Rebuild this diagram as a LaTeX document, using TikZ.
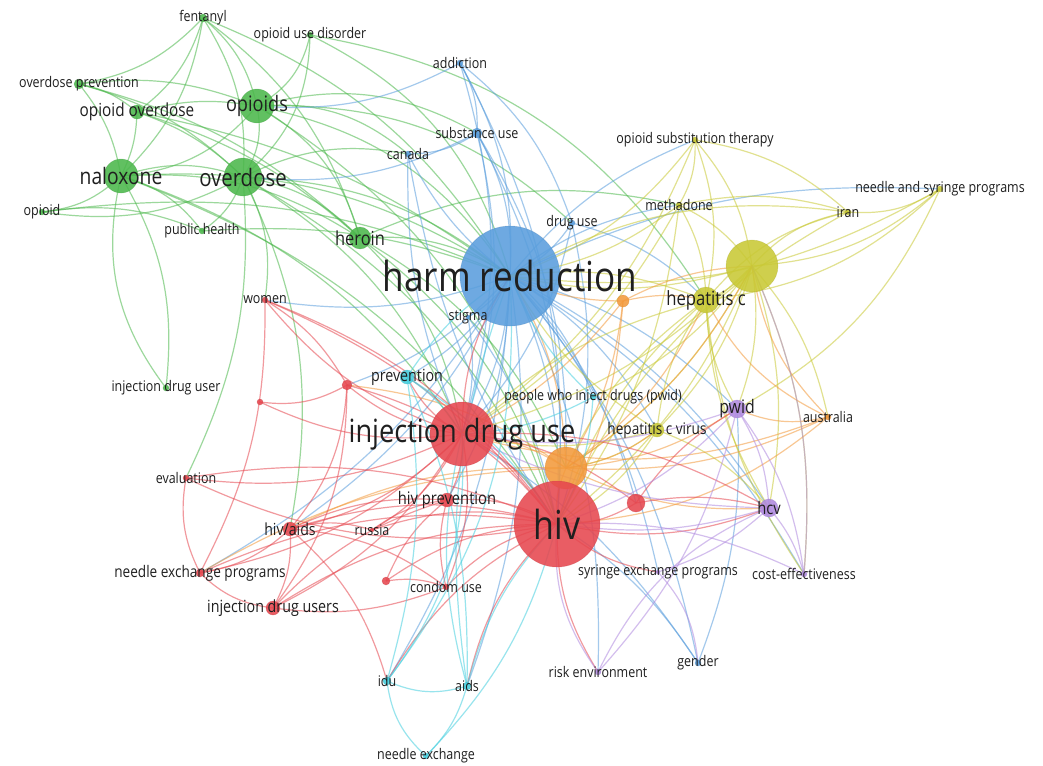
\documentclass[tikz,border=0pt]{standalone}
\usepackage{fontspec}
\setmainfont{Open Sans}
\usetikzlibrary{backgrounds}

\definecolor{vgreen}{HTML}{4CB84C}
\definecolor{vblue}{HTML}{5A9EDD}
\definecolor{vyellow}{HTML}{C9C935}
\definecolor{vorange}{HTML}{F39A3C}
\definecolor{vred}{HTML}{E6474F}
\definecolor{vpurple}{HTML}{B08AE0}
\definecolor{vcyan}{HTML}{45CFDF}

\begin{document}
\begin{tikzpicture}[x=0.75pt, y=-0.75pt,
    bub/.style 2 args={circle, inner sep=0, minimum size=#2*1.5pt, fill=#1,
      fill opacity=0.88, draw=#1!80!black, draw opacity=0.3, line width=0.4pt},
    kw/.style={font=\fontsize{#1}{#1}\selectfont, text=black!88, inner sep=0,
      xscale=0.85, transform shape},
    edg/.style={line width=0.9pt, draw=#1, draw opacity=0.55}]
  \useasboundingbox (0,0) rectangle (1043,765);

  % green cluster
  \node[bub={vgreen}{4}] (fent) at (203,18) {};
  \node[bub={vgreen}{3}] (oud) at (310,35) {};
  \node[bub={vgreen}{5}] (odprev) at (79,84) {};
  \node[bub={vgreen}{7}] (opod) at (137,112) {};
  \node[bub={vgreen}{17}] (opioids) at (257,106) {};
  \node[bub={vgreen}{17}] (nalox) at (121,176) {};
  \node[bub={vgreen}{19}] (overdose) at (243,177) {};
  \node[bub={vgreen}{3}] (opioid) at (42,212) {};
  \node[bub={vgreen}{3}] (pubh) at (202,231) {};
  \node[bub={vgreen}{11}] (heroin) at (360,238) {};
  \node[bub={vgreen}{3}] (idus) at (166,388) {};

  % blue cluster
  \node[bub={vblue}{3}] (addic) at (460,63) {};
  \node[bub={vblue}{5}] (subst) at (477,133) {};
  \node[bub={vblue}{3}] (canada) at (408,154) {};
  \node[bub={vblue}{3}] (druguse) at (572,223) {};
  \node[bub={vblue}{50}] (harm) at (510,276) {};
  \node[bub={vblue}{2}] (stigma) at (468,317) {};
  \node[bub={vblue}{3}] (gender) at (698,663) {};

  % yellow cluster
  \node[bub={vyellow}{3}] (ost) at (695,140) {};
  \node[bub={vyellow}{3}] (metha) at (679,205) {};
  \node[bub={vyellow}{3}] (nsp) at (940,189) {};
  \node[bub={vyellow}{3}] (iran) at (848,212) {};
  \node[bub={vyellow}{26}] (ybig) at (752,266) {};
  \node[bub={vyellow}{13}] (hepc) at (706,300) {};
  \node[bub={vyellow}{7}] (hcvvirus) at (657,430) {};

  % orange cluster
  \node[bub={vorange}{6}] (osmall) at (623,301) {};
  \node[bub={vorange}{21}] (obig) at (566,468) {};
  \node[bub={vorange}{3}] (austr) at (828,417) {};

  % red cluster
  \node[bub={vred}{32}] (idrug) at (462,434) {};
  \node[bub={vred}{43}] (hiv) at (557,524) {};
  \node[bub={vred}{5}] (rdot1) at (347,385) {};
  \node[bub={vred}{3}] (rdot2) at (260,402) {};
  \node[bub={vred}{3}] (women) at (265,300) {};
  \node[bub={vred}{3}] (evalu) at (186,478) {};
  \node[bub={vred}{7}] (hivprev) at (447,500) {};
  \node[bub={vred}{7}] (hivaids) at (290,529) {};
  \node[bub={vred}{2}] (russia) at (372,530) {};
  \node[bub={vred}{4}] (nep) at (200,573) {};
  \node[bub={vred}{4}] (rdot3) at (386,581) {};
  \node[bub={vred}{3}] (condom) at (446,587) {};
  \node[bub={vred}{7}] (idusers) at (273,608) {};
  \node[bub={vred}{9}] (rdot4) at (636,503) {};

  % purple cluster
  \node[bub={vpurple}{9}] (pwid) at (737,409) {};
  \node[bub={vpurple}{9}] (hcv) at (769,508) {};
  \node[bub={vpurple}{3}] (riskenv) at (598,672) {};
  \node[bub={vpurple}{3}] (costeff) at (804,574) {};
  \node[bub={vpurple}{2}] (sep) at (658,572) {};

  % cyan cluster
  \node[bub={vcyan}{7}] (prevent) at (407,377) {};
  \node[bub={vcyan}{3}] (pwidl) at (593,397) {};
  \node[bub={vcyan}{4}] (idu) at (387,681) {};
  \node[bub={vcyan}{4}] (aids) at (467,686) {};
  \node[bub={vcyan}{3}] (needlex) at (426,756) {};

  % labels
  \node[kw=11] (fent-t) at (fent) {fentanyl};
  \node[kw=11] (oud-t) at (oud) {opioid use disorder};
  \node[kw=11] (odprev-t) at (odprev) {overdose prevention};
  \node[kw=13.5] (opod-t) at (opod) {opioid overdose};
  \node[kw=16] (opioids-t) at (opioids) {opioids};
  \node[kw=17] (nalox-t) at (nalox) {naloxone};
  \node[kw=18] (overdose-t) at (overdose) {overdose};
  \node[kw=11] (opioid-t) at (opioid) {opioid};
  \node[kw=11] (pubh-t) at (pubh) {public health};
  \node[kw=14.5] (heroin-t) at (heroin) {heroin};
  \node[kw=11] (idus-t) at (idus) {injection drug user};
  \node[kw=11] (addic-t) at (addic) {addiction};
  \node[kw=11] (subst-t) at (subst) {substance use};
  \node[kw=11] (canada-t) at (canada) {canada};
  \node[kw=11] (druguse-t) at (druguse) {drug use};
  \node[kw=31] (harm-t) at (harm) {harm reduction};
  \node[kw=11] (stigma-t) at (stigma) {stigma};
  \node[kw=11] (gender-t) at (gender) {gender};
  \node[kw=11] (ost-t) at (ost) {opioid substitution therapy};
  \node[kw=11] (metha-t) at (metha) {methadone};
  \node[kw=11] (nsp-t) at (nsp) {needle and syringe programs};
  \node[kw=11] (iran-t) at (iran) {iran};
  \node[kw=14.7] (hepc-t) at (hepc) {hepatitis c};
  \node[kw=12] (hcvvirus-t) at (hcvvirus) {hepatitis c virus};
  \node[kw=11] (austr-t) at (austr) {australia};
  \node[kw=24] (idrug-t) at (idrug) {injection drug use};
  \node[kw=30] (hiv-t) at (hiv) {hiv};
  \node[kw=11] (women-t) at (women) {women};
  \node[kw=11] (evalu-t) at (evalu) {evaluation};
  \node[kw=13] (hivprev-t) at (hivprev) {hiv prevention};
  \node[kw=12.5] (hivaids-t) at (hivaids) {hiv/aids};
  \node[kw=11] (russia-t) at (russia) {russia};
  \node[kw=12] (nep-t) at (nep) {needle exchange programs};
  \node[kw=11] (condom-t) at (condom) {condom use};
  \node[kw=12.6] (idusers-t) at (idusers) {injection drug users};
  \node[kw=14] (pwid-t) at (pwid) {pwid};
  \node[kw=13] (hcv-t) at (hcv) {hcv};
  \node[kw=11] (riskenv-t) at (riskenv) {risk environment};
  \node[kw=11] (costeff-t) at (costeff) {cost-effectiveness};
  \node[kw=11] (sep-t) at (sep) {syringe exchange programs};
  \node[kw=12.6] (prevent-t) at (prevent) {prevention};
  \node[kw=11] (pwidl-t) at (pwidl) {people who inject drugs (pwid)};
  \node[kw=11] (idu-t) at (idu) {idu};
  \node[kw=11] (aids-t) at (aids) {aids};
  \node[kw=11] (needlex-t) at (needlex) {needle exchange};

  \begin{scope}[on background layer]
    \fill[white] (0,0) rectangle (1043,765);
    % green links
    \foreach \t in {odprev,opod,nalox,opioids,overdose,heroin,harm}
      \draw[edg=vgreen] (fent.center) to[bend left=18] (\t.center);
    \foreach \t in {opioids,overdose,harm,hepc}
      \draw[edg=vgreen] (oud.center) to[bend left=24] (\t.center);
    \foreach \t in {opod,nalox,overdose,opioids,heroin}
      \draw[edg=vgreen] (odprev.center) to[bend left=14] (\t.center);
    \foreach \t in {opioids,nalox,overdose,heroin,harm}
      \draw[edg=vgreen] (opod.center) to[bend left=12] (\t.center);
    \foreach \t in {nalox,overdose,heroin,harm,canada,subst,hiv,druguse}
      \draw[edg=vgreen] (opioids.center) to[bend left=22] (\t.center);
    \foreach \t in {overdose,opioid,pubh,heroin,harm,idus,idrug,hiv}
      \draw[edg=vgreen] (nalox.center) to[bend left=18] (\t.center);
    \foreach \t in {heroin,harm,pubh,idrug,hiv,women,canada,opioid,hivaids}
      \draw[edg=vgreen] (overdose.center) to[bend left=18] (\t.center);
    \foreach \t in {pubh,harm}
      \draw[edg=vgreen] (opioid.center) to[bend left=15] (\t.center);
    \foreach \t in {harm,idrug,hiv,obig,metha}
      \draw[edg=vgreen] (heroin.center) to[bend left=18] (\t.center);
    \draw[edg=vgreen] (pubh.center) to[bend left=12] (harm.center);
    \draw[edg=vgreen] (idus.center) to[bend left=25] (nalox.center);
    \draw[edg=vgreen] (evalu.center) to[bend right=15] (overdose.center);
    % blue links
    \foreach \t in {subst,harm,druguse,idrug,hiv,opioids}
      \draw[edg=vblue] (addic.center) to[bend left=16] (\t.center);
    \foreach \t in {harm,canada,idrug,hiv,obig,overdose}
      \draw[edg=vblue] (subst.center) to[bend left=16] (\t.center);
    \foreach \t in {harm,hiv,idrug}
      \draw[edg=vblue] (canada.center) to[bend right=12] (\t.center);
    \foreach \t in {harm,hiv,idrug,hepc}
      \draw[edg=vblue] (druguse.center) to[bend left=15] (\t.center);
    \foreach \t in {stigma,idrug,hiv,prevent,pwid,hcv,gender,sep,women,rdot1,hivprev,
        metha,ost,nsp,pwidl,hcvvirus,costeff,riskenv,aids,idu,hivaids,nep,rdot4}
      \draw[edg=vblue] (harm.center) to[bend left=14] (\t.center);
    \foreach \t in {idrug,hiv}
      \draw[edg=vblue] (stigma.center) to[bend left=12] (\t.center);
    \foreach \t in {hiv,idrug,pwid}
      \draw[edg=vblue] (gender.center) to[bend right=12] (\t.center);
    % yellow links
    \foreach \t in {metha,ybig,hepc,harm,iran,idrug}
      \draw[edg=vyellow] (ost.center) to[bend left=16] (\t.center);
    \foreach \t in {ybig,hepc,harm,hiv,iran,idrug}
      \draw[edg=vyellow] (metha.center) to[bend left=14] (\t.center);
    \foreach \t in {iran,ybig,hepc,harm,pwid}
      \draw[edg=vyellow] (nsp.center) to[bend left=18] (\t.center);
    \foreach \t in {ybig,hepc,harm,hiv}
      \draw[edg=vyellow] (iran.center) to[bend right=18] (\t.center);
    \foreach \t in {hepc,harm,hiv,idrug,pwid,hcvvirus,hcv,austr,obig,costeff,pwidl}
      \draw[edg=vyellow] (ybig.center) to[bend left=14] (\t.center);
    \foreach \t in {harm,hiv,idrug,hcvvirus,pwid,obig,hcv,costeff}
      \draw[edg=vyellow] (hepc.center) to[bend right=14] (\t.center);
    \foreach \t in {hiv,idrug,harm,obig,hcv}
      \draw[edg=vyellow] (hcvvirus.center) to[bend left=14] (\t.center);
    % orange links
    \foreach \t in {harm,hepc,ybig,hiv,idrug,obig}
      \draw[edg=vorange] (osmall.center) to[bend left=12] (\t.center);
    \foreach \t in {hiv,idrug,harm,hepc,ybig,austr,pwid,hcv,rdot1,nep,hivaids,hcvvirus}
      \draw[edg=vorange] (obig.center) to[bend right=14] (\t.center);
    \foreach \t in {ybig,hepc,hiv,pwid,idrug}
      \draw[edg=vorange] (austr.center) to[bend left=18] (\t.center);
    % red links
    \foreach \t in {hiv,harm,rdot1,rdot2,prevent,hivprev,hivaids,nep,idusers,condom,
        russia,evalu,rdot4,hcv,women}
      \draw[edg=vred] (idrug.center) to[bend left=16] (\t.center);
    \foreach \t in {hivprev,hivaids,nep,idusers,condom,russia,rdot3,rdot4,evalu,
        sep,riskenv,aids,idu,hcv,women}
      \draw[edg=vred] (hiv.center) to[bend right=16] (\t.center);
    \foreach \t in {rdot2,hiv,hivaids,idusers}
      \draw[edg=vred] (rdot1.center) to[bend left=18] (\t.center);
    \foreach \t in {hiv,nep,rdot1}
      \draw[edg=vred] (women.center) to[bend left=14] (\t.center);
    \foreach \t in {hiv,nep}
      \draw[edg=vred] (evalu.center) to[bend right=18] (\t.center);
    \foreach \t in {hivaids,condom,idusers}
      \draw[edg=vred] (hivprev.center) to[bend right=14] (\t.center);
    \foreach \t in {nep,idusers,russia,condom,idu}
      \draw[edg=vred] (hivaids.center) to[bend left=16] (\t.center);
    \draw[edg=vred] (russia.center) to[bend left=14] (hivprev.center);
    \draw[edg=vred] (nep.center) to[bend right=18] (idusers.center);
    \foreach \t in {hivprev,condom}
      \draw[edg=vred] (rdot3.center) to[bend left=14] (\t.center);
    \draw[edg=vred] (condom.center) to[bend left=14] (idusers.center);
    \foreach \t in {hcv,pwid}
      \draw[edg=vred] (rdot4.center) to[bend left=12] (\t.center);
    % purple links
    \foreach \t in {hcv,costeff,hiv,idrug,riskenv}
      \draw[edg=vpurple] (pwid.center) to[bend left=14] (\t.center);
    \foreach \t in {costeff,hiv,idrug,sep}
      \draw[edg=vpurple] (hcv.center) to[bend left=12] (\t.center);
    \foreach \t in {hiv,hcv}
      \draw[edg=vpurple] (riskenv.center) to[bend left=20] (\t.center);
    \foreach \t in {hiv,ybig}
      \draw[edg=vpurple] (costeff.center) to[bend right=14] (\t.center);
    \draw[edg=vpurple] (sep.center) to[bend left=18] (gender.center);
    % cyan links
    \foreach \t in {harm,idrug,hiv,aids,idu}
      \draw[edg=vcyan] (prevent.center) to[bend left=12] (\t.center);
    \foreach \t in {harm,hiv,idrug}
      \draw[edg=vcyan] (pwidl.center) to[bend left=12] (\t.center);
    \foreach \t in {aids,needlex,harm,idrug}
      \draw[edg=vcyan] (idu.center) to[bend right=20] (\t.center);
    \foreach \t in {needlex,hiv,idrug,harm}
      \draw[edg=vcyan] (aids.center) to[bend left=14] (\t.center);
    \draw[edg=vcyan] (needlex.center) to[bend right=14] (hiv.center);
  \end{scope}
\end{tikzpicture}
\end{document}
